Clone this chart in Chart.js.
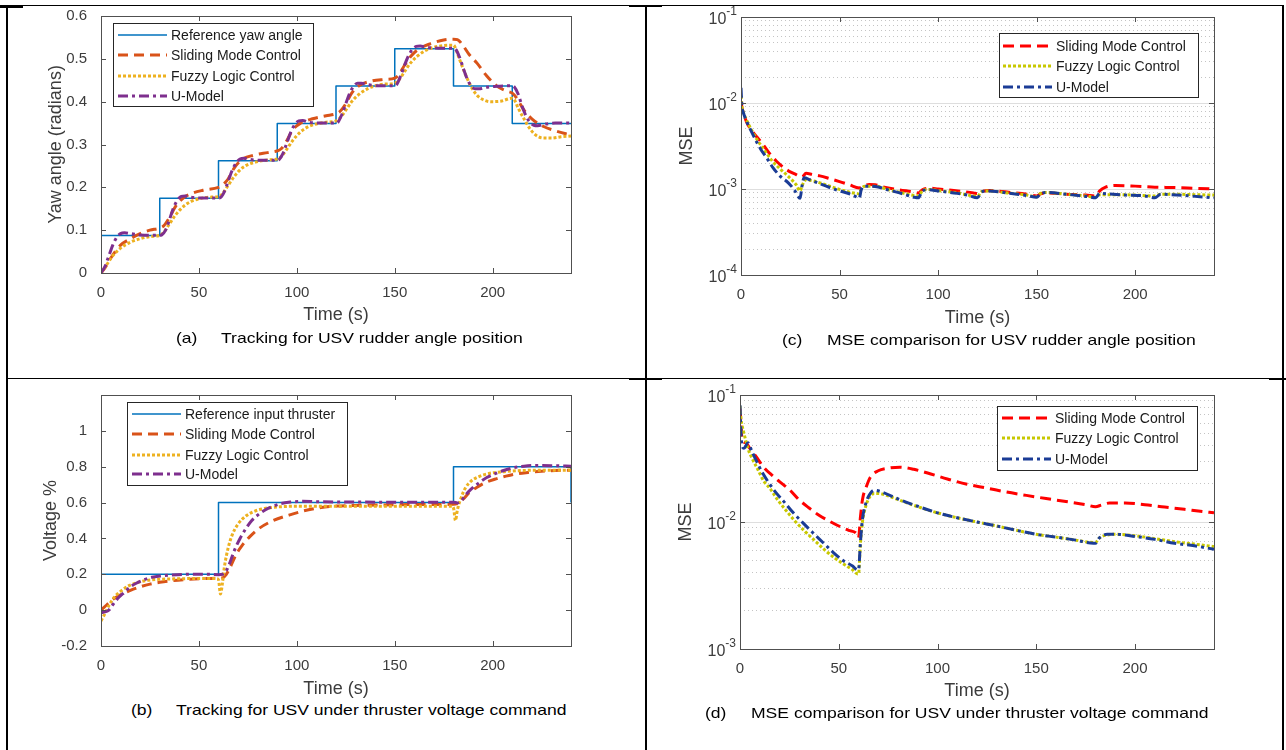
<!DOCTYPE html>
<html>
<head>
<meta charset="utf-8">
<script src="https://cdn.jsdelivr.net/npm/chart.js@4.4.1/dist/chart.umd.min.js"></script>
<style>
  html,body{margin:0;padding:0;background:#fff;}
  body{width:1286px;height:750px;position:relative;overflow:hidden;font-family:"Liberation Sans",Arial,Helvetica,sans-serif;}
  canvas{position:absolute;}
  .ln{position:absolute;background:#000;z-index:5;}
  .cap{position:absolute;font-size:15px;line-height:18px;color:#000;white-space:nowrap;z-index:6;transform:scaleX(1.17);transform-origin:0 50%;}
</style>
</head>
<body>
<!-- table frame -->
<div class="ln" style="left:0;top:5px;width:23px;height:3px;"></div>
<div class="ln" style="left:7px;top:5px;width:1277px;height:1px;"></div>
<div class="ln" style="left:6px;top:5px;width:2px;height:745px;"></div>
<div class="ln" style="left:645px;top:5px;width:2px;height:745px;"></div>
<div class="ln" style="left:629px;top:5px;width:33px;height:2px;"></div>
<div class="ln" style="left:1282px;top:5px;width:2px;height:745px;"></div>
<div class="ln" style="left:7px;top:378px;width:1277px;height:1px;"></div>
<div class="ln" style="left:629px;top:378px;width:33px;height:2px;"></div>
<div class="ln" style="left:1269px;top:378px;width:17px;height:2px;"></div>

<canvas id="cA" width="645" height="330" style="left:0;top:0;"></canvas>
<canvas id="cC" width="637" height="330" style="left:647px;top:0;"></canvas>
<canvas id="cB" width="645" height="320" style="left:0;top:380px;"></canvas>
<canvas id="cD" width="637" height="325" style="left:647px;top:380px;"></canvas>

<div class="cap" style="left:176px;top:329px;">(a)</div>
<div class="cap" style="left:221px;top:329px;">Tracking for USV rudder angle position</div>
<div class="cap" style="left:782px;top:331px;">(c)</div>
<div class="cap" style="left:827px;top:331px;">MSE comparison for USV rudder angle position</div>
<div class="cap" style="left:131px;top:701px;">(b)</div>
<div class="cap" style="left:176px;top:701px;">Tracking for USV under thruster voltage command</div>
<div class="cap" style="left:705px;top:704px;">(d)</div>
<div class="cap" style="left:751px;top:704px;">MSE comparison for USV under thruster voltage command</div>

<script>
// ================= DATA =================
// shared x axis
const xTicks = [0, 50, 100, 150, 200];
const xTickLabels = ['0', '50', '100', '150', '200'];

// ---- (a) yaw angle tracking ----
const yTicksA = [0, 0.1, 0.2, 0.3, 0.4, 0.5, 0.6];
const yTickLabelsA = ['0', '0.1', '0.2', '0.3', '0.4', '0.5', '0.6'];
const refA_t = [0, 30, 60, 90, 120, 150, 180, 210, 240];
const refA_v = [0.0873, 0.1745, 0.2618, 0.3491, 0.4363, 0.5236, 0.4363, 0.3491, 0.3491];
const smcA_t = [0,2,5,10,15,20,25,30,32,35,38,42,46,52,60,62,65,68,72,78,85,90,92,95,98,102,108,115,120,122,125,128,132,138,145,150,152,155,158,162,168,175,180,182,185,188,192,197,202,207,210,212,216,220,226,232,240];
const smcA_v = [0,0.012,0.035,0.065,0.08,0.092,0.1,0.105,0.11,0.13,0.155,0.175,0.185,0.193,0.2,0.205,0.22,0.245,0.265,0.275,0.281,0.285,0.29,0.31,0.335,0.35,0.36,0.367,0.372,0.377,0.395,0.42,0.438,0.448,0.452,0.455,0.462,0.485,0.505,0.522,0.535,0.544,0.546,0.545,0.53,0.51,0.49,0.46,0.437,0.425,0.42,0.41,0.38,0.36,0.342,0.332,0.322];
const fzA_t = [0,3,6,10,15,20,25,30,32,35,38,42,46,50,55,60,62,65,68,72,76,80,85,90,92,95,98,102,106,110,115,120,122,125,128,132,136,140,145,150,152,155,158,162,166,170,175,180,181,183,186,189,192,195,199,204,210,211,213,216,219,222,226,230,235,240];
const fzA_v = [0,0.02,0.04,0.058,0.072,0.08,0.085,0.088,0.095,0.115,0.135,0.155,0.167,0.173,0.177,0.178,0.185,0.205,0.225,0.245,0.255,0.26,0.264,0.266,0.272,0.29,0.31,0.33,0.342,0.348,0.352,0.355,0.362,0.38,0.4,0.418,0.43,0.437,0.441,0.443,0.45,0.47,0.49,0.508,0.52,0.527,0.531,0.532,0.525,0.5,0.465,0.435,0.415,0.405,0.4,0.401,0.408,0.405,0.385,0.36,0.337,0.322,0.315,0.315,0.318,0.32];
const umA_t = [0,2,4,6,8,10,12,15,20,30,31,33,35,37,39,41,43,46,52,60,61,63,65,67,69,71,73,76,82,90,91,93,95,97,99,101,103,106,112,120,121,123,125,127,129,131,133,136,142,150,151,153,155,157,159,161,163,166,172,180,181,183,185,187,189,191,193,196,202,210,211,213,215,217,219,221,223,226,232,240];
const umA_v = [0,0.015,0.04,0.065,0.083,0.092,0.094,0.092,0.089,0.088,0.089,0.1,0.125,0.152,0.17,0.179,0.18,0.177,0.175,0.175,0.176,0.19,0.215,0.24,0.257,0.266,0.268,0.265,0.263,0.263,0.265,0.28,0.305,0.33,0.347,0.355,0.356,0.352,0.35,0.35,0.352,0.37,0.395,0.42,0.436,0.443,0.443,0.44,0.437,0.437,0.44,0.46,0.485,0.507,0.522,0.529,0.53,0.527,0.525,0.525,0.523,0.505,0.478,0.453,0.437,0.43,0.43,0.433,0.436,0.437,0.435,0.418,0.39,0.367,0.352,0.345,0.344,0.347,0.35,0.35];

// ---- (b) thruster voltage tracking ----
const yTicksB = [-0.2, 0, 0.2, 0.4, 0.6, 0.8, 1];
const yTickLabelsB = ['-0.2', '0', '0.2', '0.4', '0.6', '0.8', '1'];
const refB_t = [0, 60, 180, 240, 240];
const refB_v = [0.2, 0.6, 0.8, 0.8, 0.6];
const smcB_t = [0,3,6,10,15,20,25,30,37,45,52,60,62,64,66,69,72,76,80,87,96,106,117,135,150,165,180,182,185,188,192,196,201,206,211,218,225,232,240];
const smcB_v = [0,0.03,0.06,0.085,0.11,0.13,0.145,0.155,0.165,0.172,0.176,0.178,0.18,0.2,0.24,0.31,0.36,0.41,0.45,0.495,0.53,0.56,0.578,0.585,0.588,0.589,0.59,0.595,0.62,0.655,0.685,0.71,0.73,0.745,0.758,0.768,0.775,0.779,0.78];
const fzB_t = [0,2,4,7,10,14,18,23,30,40,50,59,60,61,62,63,65,67,70,74,78,84,92,105,130,179,180,181,182,184,186,189,193,198,205,212,220,240];
const fzB_v = [-0.06,-0.02,0.025,0.075,0.105,0.135,0.152,0.165,0.172,0.175,0.177,0.176,0.17,0.09,0.15,0.24,0.35,0.42,0.48,0.525,0.55,0.568,0.577,0.58,0.58,0.58,0.57,0.5,0.56,0.63,0.68,0.72,0.745,0.762,0.772,0.777,0.78,0.78];
const umB_t = [0,2,4,6,9,12,15,18,22,26,30,36,45,55,60,62,64,66,68,71,74,77,80,84,88,92,97,103,110,130,160,180,182,184,186,189,193,197,201,206,211,216,222,230,240];
const umB_v = [-0.015,-0.01,0,0.03,0.07,0.1,0.13,0.15,0.17,0.183,0.19,0.196,0.2,0.2,0.198,0.2,0.22,0.27,0.33,0.4,0.455,0.5,0.53,0.56,0.58,0.595,0.603,0.607,0.605,0.603,0.602,0.602,0.598,0.61,0.64,0.675,0.71,0.74,0.76,0.78,0.795,0.803,0.807,0.806,0.803];

// ---- (c) MSE, rudder angle ----
const yDecadesC = [1e-4, 1e-3, 1e-2, 1e-1];
const yTickBase = '10';
const yTickExpC = ['-4', '-3', '-2', '-1'];
const smcC_t = [0,0.5,1,3,6,9,12,15,18,22,25,28,30,31,33,36,40,45,50,55,60,62,65,68,72,80,88,90,92,96,100,110,118,120,122,126,135,145,150,152,156,165,175,180,182,185,190,200,210,220,230,240];
const smcC_v = [0.0105,0.0088,0.008,0.0059,0.0046,0.0038,0.0031,0.0025,0.0021,0.00175,0.00158,0.00147,0.0014,0.00138,0.00152,0.00148,0.00142,0.00132,0.00122,0.00112,0.00103,0.00108,0.00113,0.00112,0.00106,0.00098,0.00092,0.0009,0.00098,0.00102,0.001,0.00095,0.0009,0.00088,0.00093,0.00096,0.00092,0.00087,0.00083,0.00088,0.0009,0.00087,0.00085,0.00083,0.00095,0.00105,0.0011,0.00108,0.00105,0.00104,0.00102,0.001];
const fzC_t = [0,0.5,1,3,5,8,12,16,20,24,28,30,31,33,36,40,45,50,55,60,61,63,68,75,82,90,92,95,100,110,120,122,125,135,145,150,152,155,165,175,180,182,190,200,210,213,220,230,240];
const fzC_v = [0.012,0.0088,0.008,0.0062,0.005,0.0038,0.0028,0.0021,0.0017,0.0014,0.00112,0.00095,0.0011,0.00128,0.00125,0.00118,0.00108,0.00099,0.00092,0.00088,0.001,0.00108,0.00108,0.00098,0.0009,0.00083,0.00095,0.00099,0.00096,0.0009,0.00082,0.00093,0.00095,0.0009,0.00085,0.00081,0.00089,0.00091,0.00087,0.00083,0.0008,0.00086,0.00086,0.00085,0.00083,0.00087,0.00087,0.00086,0.00085];
const umC_t = [0,0.5,1,3,5,8,10,13,16,20,24,27,30,31,32,35,40,45,50,55,59,60,61,62,68,75,82,88,90,92,95,100,108,115,120,122,125,135,145,150,152,155,165,175,180,182,185,195,205,210,213,218,228,240];
const umC_v = [0.015,0.009,0.008,0.006,0.0048,0.0035,0.0029,0.0023,0.0018,0.0014,0.00118,0.00098,0.00078,0.0011,0.00135,0.00128,0.00115,0.00104,0.00095,0.00088,0.0008,0.00078,0.00098,0.00108,0.00107,0.00097,0.00088,0.0008,0.00079,0.00095,0.00098,0.00095,0.0009,0.00085,0.00079,0.00092,0.00095,0.0009,0.00084,0.0008,0.00088,0.00091,0.00087,0.00082,0.00079,0.00089,0.00088,0.00085,0.00083,0.00079,0.00087,0.00086,0.00083,0.00079];

// ---- (d) MSE, thruster voltage ----
const yDecadesD = [1e-3, 1e-2, 1e-1];
const yTickExpD = ['-3', '-2', '-1'];
const smcD_t = [0,0.5,1,3,5,8,12,16,20,25,30,35,40,45,50,55,59,60,61,62,64,66,70,75,81,88,95,105,115,125,135,145,155,165,175,180,183,187,195,205,215,225,232,240];
const smcD_v = [0.078,0.06,0.045,0.042,0.038,0.033,0.027,0.0235,0.0208,0.018,0.0149,0.0129,0.0113,0.0102,0.0093,0.0086,0.0081,0.0075,0.011,0.015,0.019,0.0225,0.0253,0.0265,0.027,0.026,0.0243,0.0218,0.0198,0.0185,0.0172,0.0162,0.0153,0.0145,0.0137,0.0132,0.0136,0.0141,0.0141,0.0137,0.0131,0.0126,0.0122,0.0118];
const fzD_t = [0,0.5,1,2,4,6,9,12,15,19,23,28,33,38,43,48,53,57,59.5,60,61,62,64,66,68,72,80,90,100,110,120,130,140,150,160,170,179,180,182,186,190,200,210,220,230,240];
const fzD_v = [0.082,0.065,0.058,0.05,0.038,0.032,0.026,0.021,0.0185,0.015,0.0125,0.0101,0.0084,0.0071,0.006,0.0052,0.0046,0.0042,0.0039,0.0039,0.0068,0.01,0.0138,0.016,0.0168,0.0166,0.015,0.0132,0.0118,0.0108,0.01,0.0093,0.0086,0.008,0.0076,0.0072,0.0069,0.0069,0.0075,0.0079,0.008,0.0078,0.0074,0.007,0.0067,0.0064];
const umD_t = [0,0.5,1,2,4,6,8,11,14,18,22,27,32,37,42,47,52,57,59.5,60,61,62,64,66,68,72,80,90,100,110,120,130,140,150,160,170,179,180,182,186,190,200,210,220,230,240];
const umD_v = [0.083,0.05,0.04,0.038,0.042,0.036,0.031,0.025,0.021,0.0172,0.0146,0.0118,0.0098,0.0082,0.0069,0.0058,0.005,0.0045,0.0042,0.0042,0.007,0.0105,0.0145,0.0168,0.0178,0.0172,0.0152,0.0133,0.0118,0.0108,0.01,0.0093,0.0086,0.008,0.0076,0.0072,0.0068,0.0068,0.0075,0.008,0.008,0.0077,0.0073,0.0068,0.0065,0.0061];

// minor log grid multipliers
const minorMult = [2, 3, 4, 5, 6, 7, 8, 9];

// ================= RENDER =================
const FONT = '"Liberation Sans", Arial, Helvetica, sans-serif';
const TXT = '#3c3c3c';
const AXC = '#505050';
Chart.defaults.font.family = FONT;
Chart.defaults.color = TXT;

function pts(t, v) { const n = Math.min(t.length, v.length); const a = []; for (let i = 0; i < n; i++) a.push({x: t[i], y: v[i]}); return a; }

function ds(label, t, v, color, width, dash, order, extra) {
  return Object.assign({
    label, data: pts(t, v), borderColor: color, backgroundColor: color,
    borderWidth: width, borderDash: dash, pointRadius: 0, pointHoverRadius: 0,
    fill: false, cubicInterpolationMode: 'monotone', order, borderCapStyle: 'butt', borderJoinStyle: 'round'
  }, extra || {});
}

const boxPlugin = {
  id: 'boxTicks',
  afterDatasetsDraw(chart) {
    const {ctx, chartArea: a, scales} = chart;
    const L = 5;
    ctx.save();
    ctx.strokeStyle = AXC; ctx.lineWidth = 1; ctx.setLineDash([]);
    ctx.beginPath();
    scales.x.ticks.forEach(t => {
      const px = Math.round(scales.x.getPixelForValue(t.value)) + 0.5;
      ctx.moveTo(px, a.bottom); ctx.lineTo(px, a.bottom - L);
      ctx.moveTo(px, a.top); ctx.lineTo(px, a.top + L);
    });
    scales.y.ticks.forEach(t => {
      if (t.minor) return;
      const py = Math.round(scales.y.getPixelForValue(t.value)) + 0.5;
      ctx.moveTo(a.left, py); ctx.lineTo(a.left + L, py);
      ctx.moveTo(a.right, py); ctx.lineTo(a.right - L, py);
    });
    ctx.stroke();
    ctx.strokeRect(Math.round(a.left) + 0.5, Math.round(a.top) + 0.5, Math.round(a.right - a.left), Math.round(a.bottom - a.top));
    ctx.restore();
  }
};

// power-of-ten tick labels (base with raised exponent), placed through the y scale
const powLabelPlugin = {
  id: 'powLabels',
  afterDraw(chart, args, o) {
    if (!o || !o.exps) return;
    const {ctx, chartArea: a, scales} = chart;
    const s = scales.y;
    ctx.save();
    ctx.fillStyle = TXT;
    ctx.textBaseline = 'middle';
    ctx.textAlign = 'left';
    s.ticks.forEach(t => {
      if (t.minor) return;
      const e = o.exps[t.k];
      const py = s.getPixelForValue(t.value);
      ctx.font = '12px ' + FONT;
      const we = ctx.measureText(e).width;
      ctx.font = '16px ' + FONT;
      const wb = ctx.measureText(o.base).width;
      const xr = a.left - 4;
      ctx.fillText(o.base, xr - we - wb, py + 3);
      ctx.font = '12px ' + FONT;
      ctx.fillText(e, xr - we, py - 5);
    });
    ctx.restore();
  }
};

const legendPlugin = {
  id: 'boxLegend',
  afterDatasetsDraw(chart, args, o) {
    if (!o || !o.box) return;
    const ctx = chart.ctx;
    const b = o.box;
    ctx.save();
    ctx.fillStyle = '#fff';
    ctx.fillRect(b[0], b[1], b[2], b[3]);
    ctx.strokeStyle = '#262626'; ctx.lineWidth = 1; ctx.setLineDash([]);
    ctx.strokeRect(b[0] + 0.5, b[1] + 0.5, b[2], b[3]);
    ctx.font = '14px ' + FONT;
    ctx.textBaseline = 'middle';
    chart.data.datasets.forEach((d, i) => {
      const y = o.rows[i];
      ctx.strokeStyle = d.borderColor; ctx.lineWidth = d.borderWidth;
      ctx.setLineDash(d.borderDash || []);
      ctx.lineCap = 'butt';
      ctx.beginPath(); ctx.moveTo(o.lx0, y); ctx.lineTo(o.lx1, y); ctx.stroke();
      ctx.setLineDash([]);
      ctx.fillStyle = '#1a1a1a';
      ctx.fillText(d.label, o.tx, y + 1);
    });
    ctx.restore();
  }
};

function xScale(h, pb) {
  return {
    type: 'linear', position: 'bottom', min: 0, max: 240,
    afterBuildTicks: s => { s.ticks = xTicks.map(v => ({value: v})); },
    afterFit: s => { s.height = h; },
    ticks: { callback: (v, i) => xTickLabels[i], font: {size: 15}, color: TXT, padding: 3, maxRotation: 0, autoSkip: false },
    grid: { display: false }, border: { display: false },
    title: { display: true, text: 'Time (s)', font: {size: 18}, color: TXT, padding: {top: 0, bottom: pb} }
  };
}

function yLinScale(w, pt, min, max, ticks, labels, title) {
  return {
    type: 'linear', position: 'left', min, max,
    afterBuildTicks: s => { s.ticks = ticks.map(v => ({value: v})); },
    afterFit: s => { s.width = w; },
    ticks: { callback: (v, i) => labels[i], font: {size: 15}, color: TXT, padding: 6, autoSkip: false },
    grid: { display: false }, border: { display: false },
    title: { display: true, text: title, font: {size: 18}, color: TXT, padding: {top: pt, bottom: 0} }
  };
}

function yLogScale(w, pt, decades, title) {
  return {
    type: 'logarithmic', position: 'left', min: decades[0], max: decades[decades.length - 1],
    afterBuildTicks: s => {
      const arr = [];
      decades.forEach((d, k) => {
        arr.push({value: d, k, minor: false});
        if (k < decades.length - 1) minorMult.forEach(m => arr.push({value: d * m, minor: true}));
      });
      s.ticks = arr;
    },
    afterFit: s => { s.width = w; },
    ticks: { callback: () => '', font: {size: 15}, color: TXT, padding: 6, autoSkip: false },
    grid: {
      display: true, drawTicks: false, lineWidth: 1,
      color: c => (c.tick && c.tick.minor) ? '#c4c4c4' : '#dedede'
    },
    border: { display: false, dash: c => (c.tick && c.tick.minor) ? [1, 3] : [] },
    title: { display: true, text: title, font: {size: 18}, color: TXT, padding: {top: pt, bottom: 0} }
  };
}

function make(id, datasets, scales, pad, legend, pow) {
  return new Chart(document.getElementById(id), {
    type: 'line',
    data: { datasets },
    options: {
      responsive: false, animation: false, devicePixelRatio: 1,
      layout: { padding: pad },
      scales,
      plugins: { legend: {display: false}, tooltip: {enabled: false}, boxLegend: legend, powLabels: pow || {} },
      events: []
    },
    plugins: [boxPlugin, legendPlugin, powLabelPlugin]
  });
}

// (a)
make('cA', [
  ds('Reference yaw angle', refA_t, refA_v, '#0072BD', 1.5, [], 4, {stepped: 'before', cubicInterpolationMode: 'default'}),
  ds('Sliding Mode Control', smcA_t, smcA_v, '#D95319', 3, [10, 6], 3),
  ds('Fuzzy Logic Control', fzA_t, fzA_v, '#EDB120', 3, [3, 2], 2),
  ds('U-Model', umA_t, umA_v, '#7E2F8E', 3, [10, 4, 3, 4], 1)
], {
  x: xScale(57, 4),
  y: yLinScale(101, 45, 0, 0.6, yTicksA, yTickLabelsA, 'Yaw angle (radians)')
}, {left: 0, top: 16, right: 74, bottom: 0},
{box: [113, 23, 200, 83], rows: [35, 55, 76, 96], lx0: 118, lx1: 167, tx: 171});

// (b)
make('cB', [
  ds('Reference input thruster', refB_t, refB_v, '#0072BD', 1.5, [], 4, {stepped: 'before', cubicInterpolationMode: 'default'}),
  ds('Sliding Mode Control', smcB_t, smcB_v, '#D95319', 3, [10, 6], 3),
  ds('Fuzzy Logic Control', fzB_t, fzB_v, '#EDB120', 3, [3, 2], 2),
  ds('U-Model', umB_t, umB_v, '#7E2F8E', 3, [10, 4, 3, 4], 1)
], {
  x: xScale(54, 0),
  y: yLinScale(101, 40, -0.2, 1.2, yTicksB, yTickLabelsB, 'Voltage %')
}, {left: 0, top: 9, right: 74, bottom: 0},
{box: [127, 22, 220, 83], rows: [34, 54, 75, 94], lx0: 132, lx1: 181, tx: 185});

// (c)
make('cC', [
  ds('Sliding Mode Control', smcC_t, smcC_v, '#FF0000', 3, [11, 6], 3),
  ds('Fuzzy Logic Control', fzC_t, fzC_v, '#C8C800', 3, [3, 2], 2),
  ds('U-Model', umC_t, umC_v, '#1B3C96', 3, [10, 4, 3, 4], 1)
], {
  x: xScale(55, 1),
  y: yLogScale(94, 29, yDecadesC, 'MSE')
}, {left: 0, top: 17, right: 70, bottom: 0},
{box: [352, 33, 199, 64], rows: [46, 66, 87], lx0: 356, lx1: 405, tx: 409},
{base: yTickBase, exps: yTickExpC});

// (d)
make('cD', [
  ds('Sliding Mode Control', smcD_t, smcD_v, '#FF0000', 3, [11, 6], 3),
  ds('Fuzzy Logic Control', fzD_t, fzD_v, '#C8C800', 3, [3, 2], 2),
  ds('U-Model', umD_t, umD_v, '#1B3C96', 3, [10, 4, 3, 4], 1)
], {
  x: xScale(56, 3),
  y: yLogScale(93, 28, yDecadesD, 'MSE')
}, {left: 0, top: 9, right: 70, bottom: 0},
{box: [350, 26, 200, 64], rows: [38, 58, 79], lx0: 355, lx1: 404, tx: 408},
{base: yTickBase, exps: yTickExpD});
</script>
</body>
</html>
